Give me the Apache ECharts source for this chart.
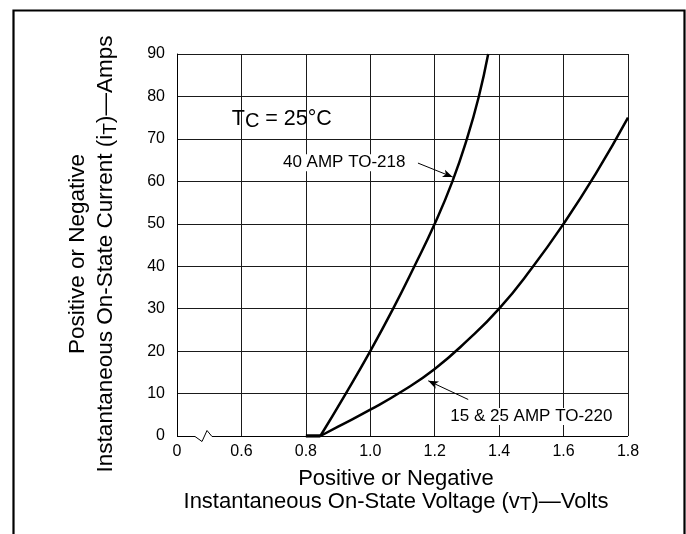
<!DOCTYPE html>
<html>
<head>
<meta charset="utf-8">
<script src="https://cdn.jsdelivr.net/npm/echarts@6/dist/echarts.min.js"></script>
<style>
  html, body { margin: 0; padding: 0; background: #fff; }
  #chart { width: 686px; height: 534px; }
</style>
</head>
<body>
<div id="chart"></div>
<script>
// ---- data ----
const volts40 = [0.845, 0.924, 1.00, 1.071, 1.137, 1.20, 1.255, 1.30, 1.337, 1.366];
const amps40  = [0, 10, 20, 30, 40, 50, 60, 70, 80, 90];
const volts220 = [0.845, 0.90, 1.00, 1.10, 1.20, 1.30, 1.40, 1.50, 1.60, 1.70, 1.80];
const amps220  = [0, 2.2, 6.2, 10.6, 15.8, 22.4, 30, 39.4, 50, 61.8, 75];
const voltsFlat = [0.80, 0.845];
const ampsFlat  = [0, 0];
const xTickLabels = ['0', '0.6', '0.8', '1.0', '1.2', '1.4', '1.6', '1.8'];
const yTickLabels = ['0', '10', '20', '30', '40', '50', '60', '70', '80', '90'];
const seriesNames = ['40 AMP TO-218', '15 & 25 AMP TO-220'];
// annotation anchors in data units
const arrow40 = [[1.148, 64.3], [1.256, 61.0]];
const arrow220 = [[1.304, 8.6], [1.180, 13.0]];
const label40Pos = [0.919, 64.4];
const label220Pos = [1.50, 4.6];
const tcPos = [0.57, 74.6];
// axis break (zigzag) on x axis, data units
const breakX = [0.457, 0.4775, 0.493, 0.5085];

const FONT = '"Liberation Sans", Arial, Helvetica, sans-serif';
const INK = '#000';
const GRID = '#1a1a1a';

function pairs(xs, ys) { return xs.map((x, i) => [x, ys[i]]); }

const chart = echarts.init(document.getElementById('chart'), null, { renderer: 'canvas' });

const option = {
  animation: false,
  backgroundColor: '#fff',
  grid: { left: 177, right: 58, top: 54, bottom: 98, containLabel: false },
  xAxis: {
    type: 'value', min: 0.4, max: 1.8, interval: 0.2,
    axisLine: { show: false },
    axisTick: { show: false },
    splitLine: { show: true, lineStyle: { color: GRID, width: 1 } },
    axisLabel: {
      margin: 8, fontSize: 16, color: INK, fontFamily: FONT,
      formatter: (v, i) => xTickLabels[i]
    },
    name: '{a|Positive or Negative}\n{a|Instantaneous On-State Voltage (v}{s|T}{a|)—Volts}',
    nameLocation: 'middle', nameGap: 31,
    nameTextStyle: {
      color: INK, fontFamily: FONT, fontSize: 22, lineHeight: 23.5,
      padding: [0, 13, 0, 0],
      rich: {
        a: { fontSize: 22, lineHeight: 23.5, fontFamily: FONT, color: INK },
        s: { fontSize: 19, lineHeight: 12, verticalAlign: 'bottom', fontFamily: FONT, color: INK }
      }
    }
  },
  yAxis: {
    type: 'value', min: 0, max: 90, interval: 10,
    axisLine: { show: true, lineStyle: { color: INK, width: 1 } },
    axisTick: { show: false },
    splitLine: { show: true, showMinLine: false, lineStyle: { color: GRID, width: 1 } },
    axisLabel: {
      margin: 12, fontSize: 16, color: INK, fontFamily: FONT,
      formatter: (v, i) => yTickLabels[i]
    },
    name: '{a|Positive or Negative}\n{a|Instantaneous On-State Current (i}{s|T}{a|)—Amps}',
    nameLocation: 'middle', nameGap: 57,
    nameTextStyle: {
      color: INK, fontFamily: FONT, fontSize: 22.5, lineHeight: 28,
      padding: [0, 18, 0, 0],
      rich: {
        a: { fontSize: 22.5, lineHeight: 28, fontFamily: FONT, color: INK },
        s: { fontSize: 19, lineHeight: 15, verticalAlign: 'bottom', fontFamily: FONT, color: INK }
      }
    }
  },
  series: [
    {
      name: seriesNames[0], type: 'line', data: pairs(volts40, amps40),
      smooth: 0.5, showSymbol: false, symbol: 'none',
      lineStyle: { color: INK, width: 2.5 }, z: 5,
      markLine: {
        silent: true, symbol: ['none', 'arrow'], symbolSize: [6, 10],
        label: { show: false },
        lineStyle: { color: INK, width: 1, type: 'solid' },
        data: [
          [{ coord: arrow40[0] }, { coord: arrow40[1] }],
          [{ coord: arrow220[0] }, { coord: arrow220[1] }]
        ]
      }
    },
    {
      name: seriesNames[1], type: 'line', data: pairs(volts220, amps220),
      smooth: 0.5, showSymbol: false, symbol: 'none',
      lineStyle: { color: INK, width: 2.5 }, z: 5
    },
    {
      name: 'flat', type: 'line', data: pairs(voltsFlat, ampsFlat),
      showSymbol: false, symbol: 'none',
      lineStyle: { color: INK, width: 3.5 }, z: 5
    }
  ]
};

chart.setOption(option);

function px(pt) { return chart.convertToPixel({ gridIndex: 0 }, pt); }

const p0 = px([0.4, 0]);
const pEnd = px([1.8, 0]);
const b = breakX.map(x => px([x, 0]));
const axisPts = [
  p0, b[0],
  [b[1][0], b[1][1] + 5],
  [b[2][0], b[2][1] - 6],
  b[3], pEnd
].map(p => [Math.round(p[0]), Math.round(p[1]) + 0.5]);

const tc = px(tcPos);
const l40 = px(label40Pos);
const l220 = px(label220Pos);

chart.setOption({
  graphic: [
    {
      type: 'rect', silent: true, z: 100,
      shape: { x: 13.5, y: 10.5, width: 671, height: 600 },
      style: { fill: 'none', stroke: INK, lineWidth: 2.2 }
    },
    {
      type: 'polyline', silent: true, z: 50,
      shape: { points: axisPts },
      style: { fill: 'none', stroke: INK, lineWidth: 1 }
    },
    {
      type: 'text', silent: true, z: 60,
      x: tc[0], y: tc[1],
      style: {
        text: '{a|T}{s|C}{a| = 25°C}',
        verticalAlign: 'middle', align: 'left',
        rich: {
          a: { fontSize: 21.5, lineHeight: 24, fontFamily: FONT, fill: INK },
          s: { fontSize: 20, lineHeight: 16, verticalAlign: 'bottom', fontFamily: FONT, fill: INK }
        }
      }
    },
    {
      type: 'text', silent: true, z: 60,
      x: l40[0], y: l40[1],
      style: {
        text: seriesNames[0], font: '17px ' + FONT, fill: INK,
        align: 'center', verticalAlign: 'middle',
        backgroundColor: '#fff', padding: [0, 1]
      }
    },
    {
      type: 'text', silent: true, z: 60,
      x: l220[0], y: l220[1],
      style: {
        text: seriesNames[1], font: '17px ' + FONT, fill: INK,
        align: 'center', verticalAlign: 'middle',
        backgroundColor: '#fff', padding: [0, 1]
      }
    }
  ]
});
</script>
</body>
</html>
